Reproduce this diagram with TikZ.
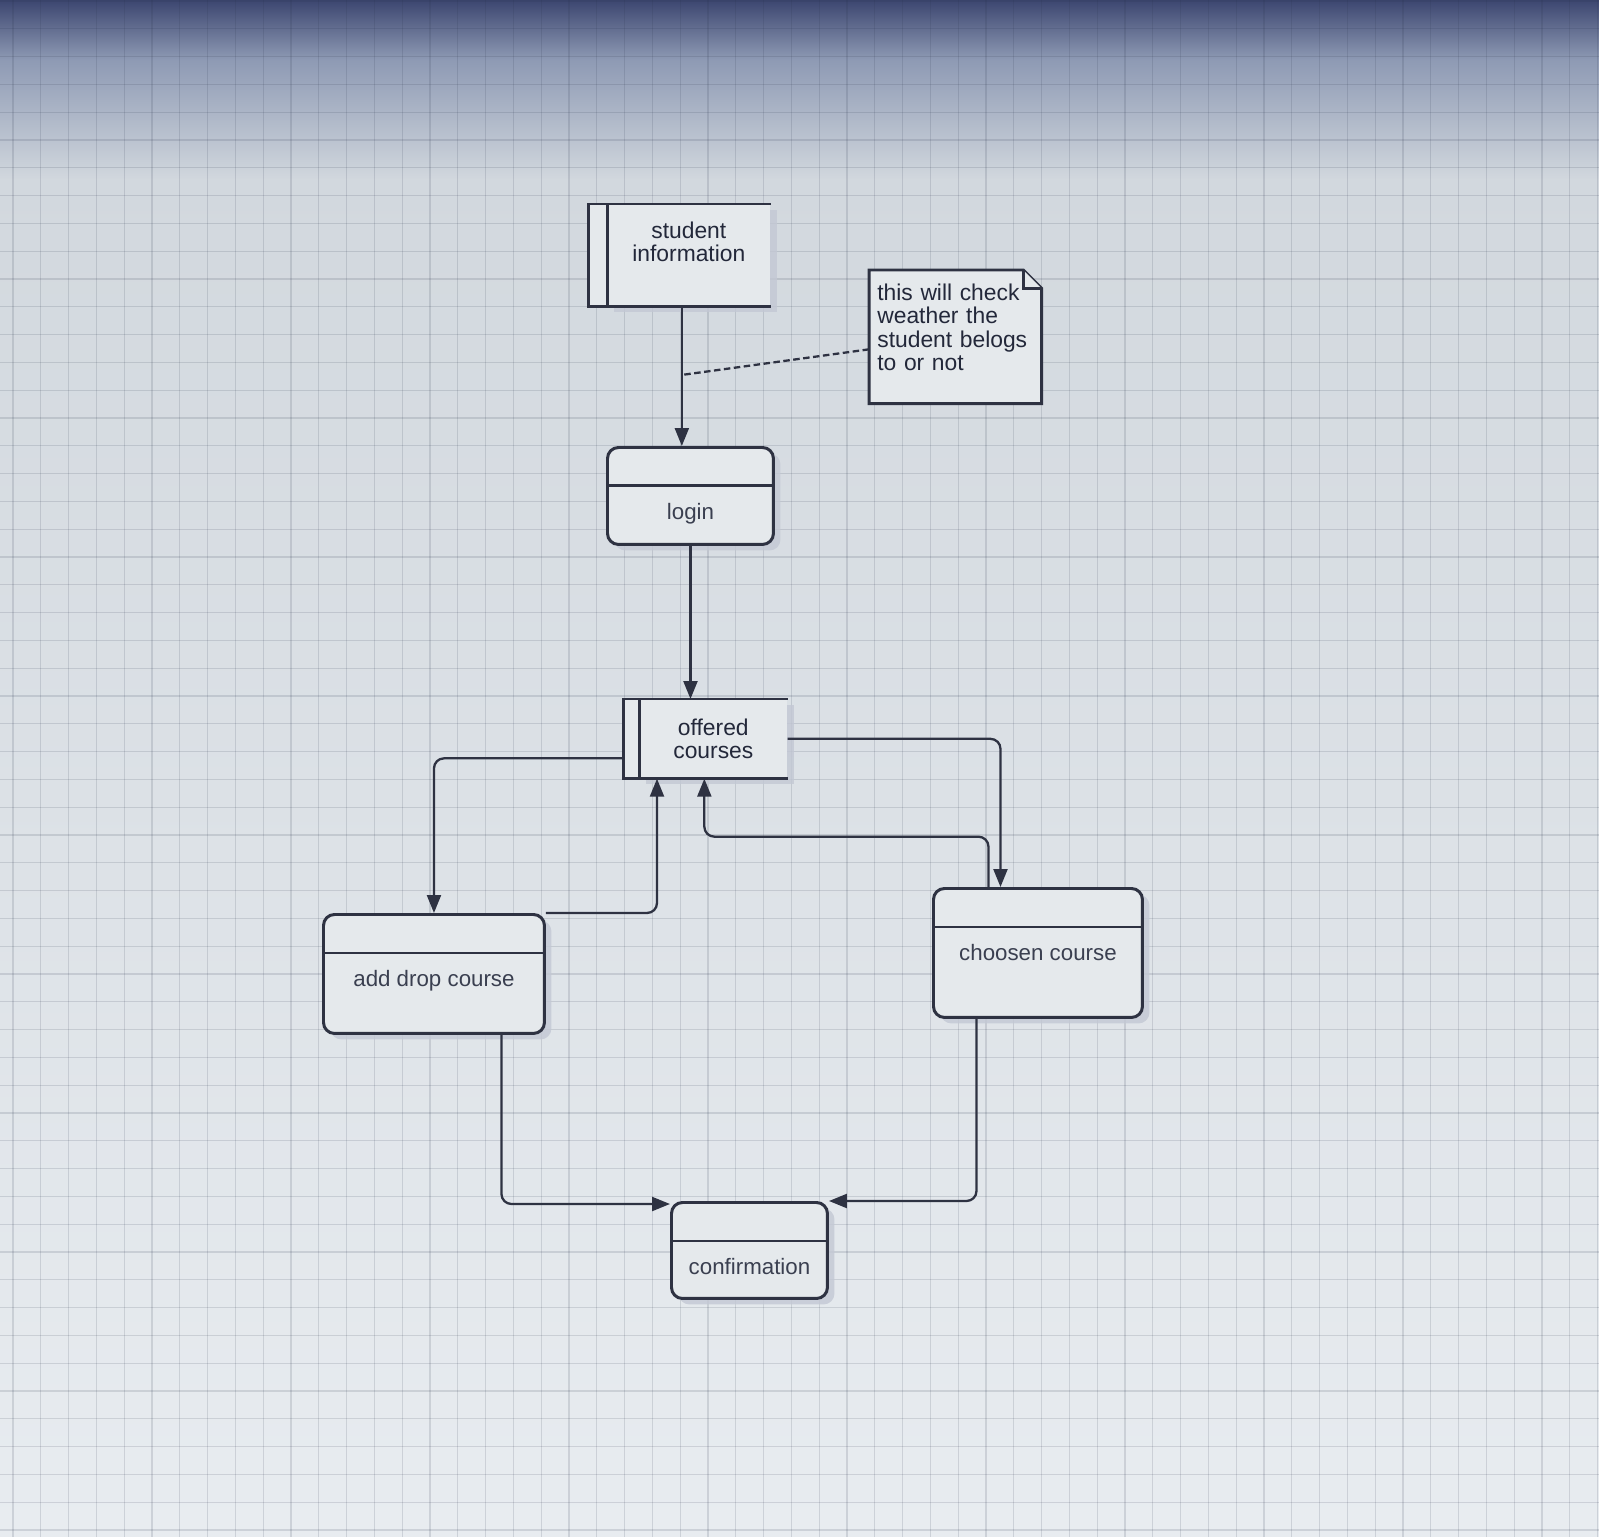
\documentclass[tikz,border=0pt]{standalone}
\usepackage{fontspec}
\setmainfont{Liberation Sans}
\usetikzlibrary{arrows.meta,shadows,backgrounds}

\definecolor{boxfill}{HTML}{E5E9EC}
\definecolor{boxline}{HTML}{2E3242}
\definecolor{textcol}{HTML}{3A3F50}
\definecolor{inkcol}{HTML}{23283A}
\definecolor{shadowcol}{HTML}{C3C8D4}
\definecolor{bgtop}{HTML}{3C4670}
\definecolor{bgfade}{HTML}{8E9AB4}
\definecolor{bgmid}{HTML}{D2D8DE}
\definecolor{bgbot}{HTML}{E8ECF0}
\definecolor{gridcol}{HTML}{28324A}

\begin{document}
\begin{tikzpicture}[
    x=0.02cm, y=-0.02cm,
    font=\fontsize{12.7}{15}\selectfont,
    gridline/.style={draw=gridcol, opacity=0.14, line width=0.6pt},
    boxshadow/.style={drop shadow={shadow xshift=0.14cm, shadow yshift=-0.12cm, fill=shadowcol, opacity=0.8}},
    store/.style={fill=boxfill, text=inkcol, align=center, anchor=north west, inner sep=0pt, boxshadow, font=\fontsize{13}{13.4}\selectfont},
    storeline/.style={draw=boxline, line width=1.7pt},
    process/.style={draw=boxline, line width=1.7pt, fill=boxfill, rounded corners=0.22cm, text=textcol, anchor=north west, inner ysep=0pt, text height=1.44cm, text depth=#1, boxshadow},
    note/.style={anchor=north west, text=inkcol, align=left, text width=3.12cm, inner xsep=0.16cm, minimum width=3.44cm, minimum height=2.66cm, font=\fontsize{13}{13.4}\selectfont},
    notebox/.style={draw=boxline, fill=boxfill, line width=1.7pt},
    flow/.style={->, >={Triangle[length=0.36cm, width=0.28cm]}, draw=boxline, line width=1.3pt, rounded corners=0.2cm},
    notelink/.style={draw=boxline, line width=1.3pt, dash pattern=on 0.13cm off 0.07cm},
]
    \useasboundingbox (0,0) rectangle (1599,1537);

    % Backdrop: screen photo with grid
    \begin{scope}[on background layer]
        \shade[top color=bgtop, bottom color=bgfade] (0,0) rectangle (1599,60);
        \shade[top color=bgfade, bottom color=bgmid] (0,60) rectangle (1599,180);
        \shade[top color=bgmid, bottom color=bgbot] (0,180) rectangle (1599,1537);
        \foreach \gx in {13,40.8,...,1599} \draw[gridline] (\gx,0) -- (\gx,1537);
        \foreach \gy in {1,28.8,...,1537} \draw[gridline] (0,\gy) -- (1599,\gy);
    \end{scope}

    % Data stores
    \node[store, minimum width=3.26cm, text height=1.15cm, text depth=0.89cm] (stud) at (607,204) {student\\information};
    \node[store, minimum width=2.96cm, minimum height=1.58cm] (offer) at (639,699) {offered\\courses};

    % Processes
    \node[process=0.50cm, minimum width=3.32cm] (login) at (606,446) {login};
    \node[process=0.94cm, minimum width=4.42cm] (adddrop) at (322,913) {add drop course};
    \node[process=1.14cm, minimum width=4.18cm] (chosen) at (932,887) {choosen course};
    \node[process=0.48cm, minimum width=3.12cm] (confirm) at (670,1201) {confirmation};

    % Note
    \node[note, inner ysep=0pt, text height=0.6cm, text depth=2.06cm] (note) at (869,270) {this will check\\weather the\\student belogs\\to or not};
    \begin{scope}[on background layer]
        \filldraw[notebox] (note.north west) -- ([xshift=-0.37cm]note.north east) -- ([yshift=-0.37cm]note.north east) -- (note.south east) -- (note.south west) -- cycle;
        \draw[notebox] ([xshift=-0.37cm]note.north east) |- ([yshift=-0.37cm]note.north east);
    \end{scope}

    % Store outlines with side bar
    \foreach \n/\w in {stud/0.38cm, offer/0.32cm} {
        \fill[boxfill] ([xshift=-\w]\n.north west) rectangle (\n.south west);
        \draw[storeline] (\n.north east) -- ([xshift=-\w]\n.north west) -- ([xshift=-\w]\n.south west) -- (\n.south east);
        \draw[storeline] (\n.north west) -- (\n.south west);
    }

    % Process dividers
    \foreach \n in {login, adddrop, chosen, confirm}
        \draw[storeline] ([yshift=-0.8cm]\n.north west) -- ([yshift=-0.8cm]\n.north east);

    % Flows
    \draw[flow] ([xshift=-0.14cm]stud.south) -- coordinate[pos=0.49] (tap) ([xshift=-0.14cm]stud.south |- login.north);
    \draw[flow] (login.south) -- (login.south |- offer.north);
    \draw[flow] ([shift={(-0.32cm,-0.39cm)}]offer.west) -| (adddrop.north);
    \draw[flow] (adddrop.north east) -| ([xshift=0.36cm]offer.south west);
    \draw[flow] (offer.east) -| ([xshift=-0.75cm]chosen.north);
    \draw[flow] ([xshift=-0.99cm]chosen.north) |- ([shift={(-0.18cm,-1.16cm)}]offer.south) -- ([xshift=-0.18cm]offer.south);
    \draw[flow] ([xshift=1.35cm]adddrop.south) |- ([yshift=-0.06cm]confirm.north west);
    \draw[flow] ([xshift=-1.23cm]chosen.south) |- (confirm.north east);

    % Note link
    \draw[notelink] ([yshift=-0.25cm]note.west) -- (tap);
\end{tikzpicture}
\end{document}
